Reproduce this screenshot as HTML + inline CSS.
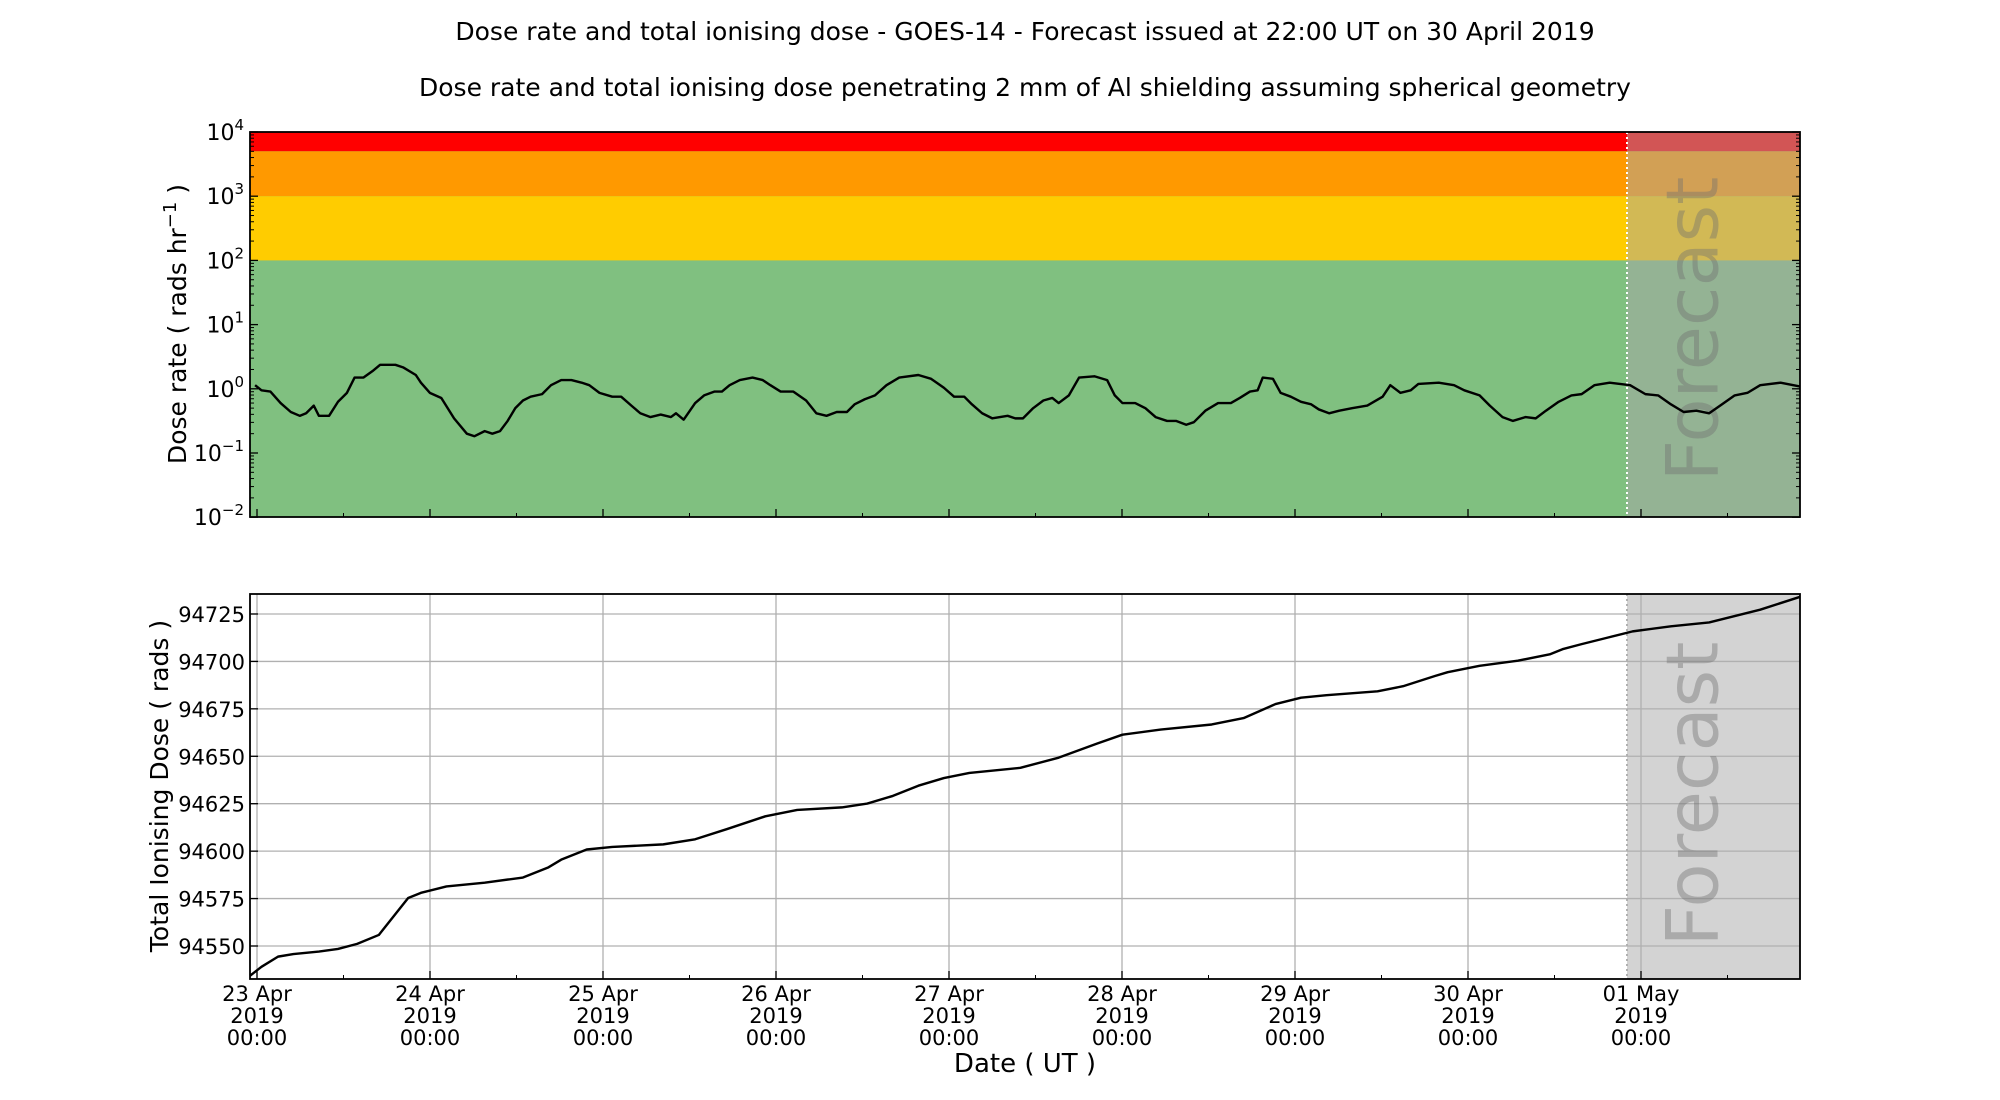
<!DOCTYPE html>
<html><head><meta charset="utf-8"><style>
html,body{margin:0;padding:0;background:#fff;}
svg{display:block;font-family:"DejaVu Sans","Liberation Sans",sans-serif;}
</style></head><body>
<svg id="s" width="2000" height="1100" viewBox="0 0 2000 1100" xmlns="http://www.w3.org/2000/svg">
<text x="1025" y="40" font-size="25" text-anchor="middle">Dose rate and total ionising dose - GOES-14 - Forecast issued at 22:00 UT on 30 April 2019</text>
<text x="1025" y="96" font-size="25" text-anchor="middle">Dose rate and total ionising dose penetrating 2 mm of Al shielding assuming spherical geometry</text>
<!-- top panel -->
<rect x="250" y="132" width="1550" height="385" fill="#80c080"/>
<rect x="250" y="132" width="1550" height="19.3" fill="#ff0000"/>
<rect x="250" y="151.3" width="1550" height="44.9" fill="#ff9900"/>
<rect x="250" y="196.2" width="1550" height="64.2" fill="#ffcc00"/>
<rect x="1627" y="132" width="173" height="385" fill="rgba(167,167,167,0.51)"/>
<line x1="1627" y1="132" x2="1627" y2="517" stroke="#fff" stroke-width="2" stroke-dasharray="2,3"/>
<text transform="translate(1698,329) rotate(-90)" font-size="72" text-anchor="middle" dominant-baseline="middle" fill="rgba(110,110,110,0.4)">Forecast</text>
<g id="tt"></g>
<polyline transform="scale(1.2755)" fill="none" stroke="#000" stroke-width="1.9" stroke-linejoin="round" points="200,302 205,306 212,307 220,316 228,323 235,326 240,324 246,318 250,326 258,326 265,315 272,308 278,296 285,296 292,291 298,286 310,286 316,288 326,294 330,300 337,308 346,312 356,328 366,340 372,342 380,338 386,340 392,338 398,330 404,320 410,314 416,311 425,309 432,302 440,298 448,298 456,300 462,302 470,308 480,311 487,311 495,318 502,324 510,327 518,325 526,327 530,324 536,329 545,316 552,310 560,307 566,307 572,302 580,298 590,296 598,298 604,302 612,307 622,307 632,314 640,324 648,326 656,323 664,323 670,317 678,313 686,310 695,302 705,296 720,294 730,297 740,304 748,311 756,311 762,317 770,324 778,328 790,326 796,328 802,328 810,320 818,314 825,312 830,316 838,310 846,296 858,295 868,298 874,310 880,316 890,316 898,320 906,327 915,330 922,330 930,333 936,331 945,322 955,316 965,316 972,312 980,307 986,306 990,296 998,297 1004,308 1012,311 1020,315 1028,317 1034,321 1042,324 1050,322 1060,320 1072,318 1084,311 1090,302 1098,308 1106,306 1112,301 1128,300 1140,302 1148,306 1160,310 1168,318 1178,327 1186,330 1196,327 1204,328 1212,322 1222,315 1232,310 1240,309 1250,302 1262,300 1270,301 1278,302 1290,309 1300,310 1310,317 1320,323 1330,322 1340,324 1350,317 1360,310 1370,308 1380,302 1396,300 1411,303"/>
<rect x="250" y="132" width="1550" height="385" fill="none" stroke="#000" stroke-width="1.8"/>
<text transform="translate(186,324) rotate(-90)" font-size="25" text-anchor="middle">Dose rate ( rads hr<tspan font-size="18" dy="-10">−1</tspan><tspan dy="10"> )</tspan></text>
<!-- bottom panel -->
<rect x="1627" y="594" width="173" height="385" fill="#d3d3d3"/>
<g id="bt"></g>
<line x1="1627" y1="594" x2="1627" y2="979" stroke="#b0b0b0" stroke-width="2" stroke-dasharray="2,3"/>
<text transform="translate(1698,794) rotate(-90)" font-size="72" text-anchor="middle" dominant-baseline="middle" fill="rgba(110,110,110,0.4)">Forecast</text>
<polyline transform="scale(1.2755)" fill="none" stroke="#000" stroke-width="1.9" stroke-linejoin="round" points="196,765 205,758 218,750 230,748 250,746 265,744 280,740 297,733 320,704 330,700 350,695 380,692 410,688 430,680 440,674 460,666 480,664 520,662 545,658 570,650 600,640 625,635 660,633 680,630 700,624 720,616 740,610 760,606 800,602 830,594 860,583 880,576 910,572 950,568 975,563 1000,552 1020,547 1040,545 1080,542 1100,538 1125,530 1135,527 1160,522 1190,518 1215,513 1225,509 1240,505 1260,500 1280,495 1310,491 1340,488 1360,483 1380,478 1411,468"/>
<rect x="250" y="594" width="1550" height="385" fill="none" stroke="#000" stroke-width="1.8"/>
<text transform="translate(168,786) rotate(-90)" font-size="25" text-anchor="middle">Total Ionising Dose ( rads )</text>
<text x="1025" y="1072" font-size="26" text-anchor="middle">Date ( UT )</text>
</svg>
<script>
var NS="http://www.w3.org/2000/svg";
function el(p,t,a,txt){var e=document.createElementNS(NS,t);for(var k in a)e.setAttribute(k,a[k]);if(txt!==undefined)e.textContent=txt;p.appendChild(e);return e;}
var tt=document.getElementById('tt'),bt=document.getElementById('bt'),s=document.getElementById('s');
var D=173,X0=257;
var days=['23 Apr','24 Apr','25 Apr','26 Apr','27 Apr','28 Apr','29 Apr','30 Apr','01 May'];
for(var i=0;i<9;i++){var x=X0+i*D;
 el(bt,'line',{x1:x,y1:594,x2:x,y2:979,stroke:'#b0b0b0','stroke-width':1.3});
 el(tt,'line',{x1:x,y1:517,x2:x,y2:509,stroke:'#000','stroke-width':1.3});
 el(bt,'line',{x1:x,y1:979,x2:x,y2:971,stroke:'#000','stroke-width':1.3});
 var h=x+D/2; if(h<1800){el(tt,'line',{x1:h,y1:517,x2:h,y2:513,stroke:'#000','stroke-width':1});el(bt,'line',{x1:h,y1:979,x2:h,y2:975,stroke:'#000','stroke-width':1});}
 el(s,'text',{x:x,y:1001,'font-size':21,'text-anchor':'middle'},days[i]);
 el(s,'text',{x:x,y:1023,'font-size':21,'text-anchor':'middle'},'2019');
 el(s,'text',{x:x,y:1045,'font-size':21,'text-anchor':'middle'},'00:00');
}
var dec=64.2;
for(var d=0;d<=6;d++){var y=132+d*dec,ex=4-d;
 el(tt,'line',{x1:250,y1:y,x2:258,y2:y,stroke:'#000','stroke-width':1.3});
 el(tt,'line',{x1:1800,y1:y,x2:1792,y2:y,stroke:'#000','stroke-width':1.3});
 var t=el(s,'text',{x:244,y:y+8,'font-size':22,'text-anchor':'end'},'10');
 el(t,'tspan',{'font-size':15,dy:-10},ex<0?'−'+(-ex):''+ex);
 if(d<6)for(var m=2;m<10;m++){var yy=132+(d+1)*dec-Math.log10(m)*dec;
  el(tt,'line',{x1:250,y1:yy,x2:254,y2:yy,stroke:'#000','stroke-width':1});
  el(tt,'line',{x1:1800,y1:yy,x2:1796,y2:yy,stroke:'#000','stroke-width':1});}
}
var pp=47.43/25;
for(var v=94550;v<=94725;v+=25){var y=946-(v-94550)*pp;
 el(bt,'line',{x1:250,y1:y,x2:1800,y2:y,stroke:'#b0b0b0','stroke-width':1.3});
 el(bt,'line',{x1:250,y1:y,x2:258,y2:y,stroke:'#000','stroke-width':1.3});
 el(s,'text',{x:245,y:y+8,'font-size':21,'text-anchor':'end'},''+v);
}
</script>
</body></html>
